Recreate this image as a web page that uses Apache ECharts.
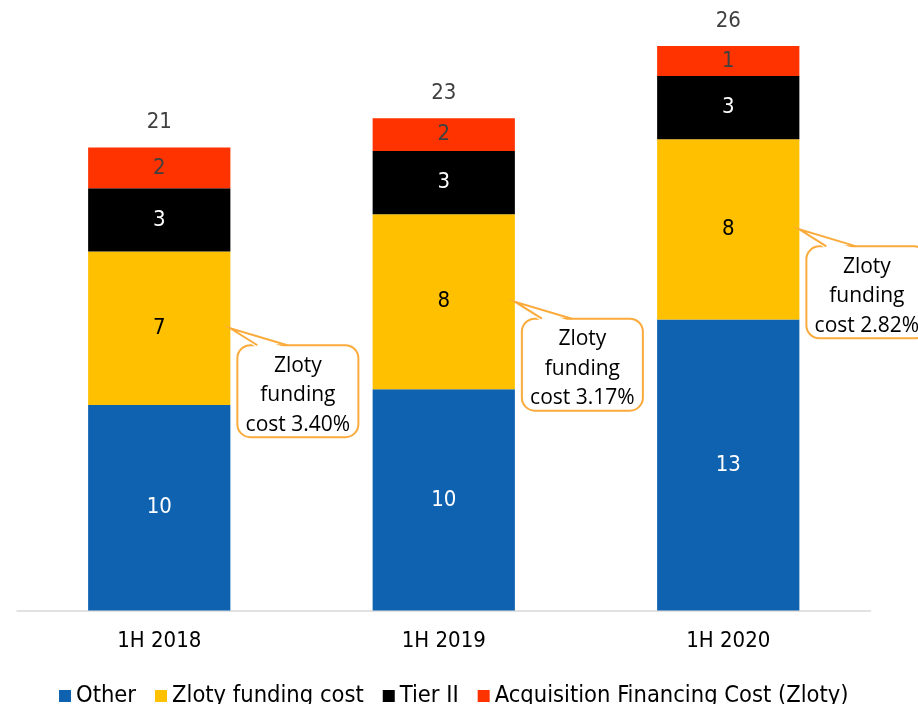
<!DOCTYPE html>
<html>
<head>
<meta charset="utf-8">
<script src="https://cdn.jsdelivr.net/npm/echarts@6/dist/echarts.min.js"></script>
<style>
  html, body { margin: 0; padding: 0; background: #fff; }
  #main { width: 918px; height: 704px; }
</style>
</head>
<body>
<div id="main"></div>
<script>
// categories
const periods = ['1H 2018', '1H 2019', '1H 2020'];

// bar heights
const other = [9.56, 10.3, 13.54];
const zlotyFunding = [7.15, 8.14, 8.39];
const tierII = [2.94, 2.94, 2.94];
const acquisition = [1.89, 1.52, 1.4];

// numbers printed on the chart (rounded by the source)
const otherLabels = [10, 10, 13];
const zlotyLabels = [7, 8, 8];
const tierLabels = [3, 3, 3];
const acquisitionLabels = [2, 2, 1];
const totalLabels = [21, 23, 26];

// callout texts
const fundingCost = ['3.40%', '3.17%', '2.82%'];

const FONT = "'DejaVu Sans Condensed', 'DejaVu Sans', sans-serif";
const BUBBLE = '#faab3c';

function seg(name, data, color, labels, labelColor) {
  return {
    name: name,
    type: 'bar',
    stack: 'cost',
    barWidth: '50%',
    data: data,
    itemStyle: { color: color },
    label: {
      show: true,
      position: 'inside',
      color: labelColor,
      fontFamily: FONT,
      fontSize: 22,
      formatter: p => String(labels[p.dataIndex])
    }
  };
}

const chart = echarts.init(document.getElementById('main'));

const option = {
  animation: false,
  backgroundColor: '#fff',
  grid: { left: 17, right: 47.5, top: 41, bottom: 93.5 },
  legend: {
    data: ['Other', 'Zloty funding cost', 'Tier II', 'Acquisition Financing Cost (Zloty)'],
    left: 54,
    top: 679,
    icon: 'rect',
    itemWidth: 12,
    itemHeight: 12,
    itemGap: 19,
    itemTextGap: 6,
    textStyle: { color: '#000', fontFamily: FONT, fontSize: 23.5 }
  },
  xAxis: {
    type: 'category',
    data: periods,
    axisLine: { lineStyle: { color: '#d9d9d9', width: 1.5 } },
    axisTick: { show: false },
    axisLabel: { color: '#000', fontFamily: FONT, fontSize: 22, margin: 20 }
  },
  yAxis: {
    type: 'value',
    min: 0,
    max: 26.5,
    show: false,
    splitLine: { show: false }
  },
  series: [
    seg('Other', other, '#0f62b0', otherLabels, '#fff'),
    seg('Zloty funding cost', zlotyFunding, '#ffc000', zlotyLabels, '#000'),
    seg('Tier II', tierII, '#000000', tierLabels, '#fff'),
    seg('Acquisition Financing Cost (Zloty)', acquisition, '#ff3300', acquisitionLabels, '#404040'),
    {
      name: 'Total',
      type: 'bar',
      stack: 'cost',
      barWidth: '50%',
      data: [0, 0, 0],
      itemStyle: { color: 'transparent' },
      label: {
        show: true,
        position: 'top',
        distance: 14,
        color: '#404040',
        fontFamily: FONT,
        fontSize: 22,
        formatter: p => String(totalLabels[p.dataIndex])
      }
    }
  ]
};

chart.setOption(option);

// speech-bubble callouts pointing at the zloty funding segment
const graphics = [];
const step = chart.convertToPixel({ xAxisIndex: 0 }, periods[1]) - chart.convertToPixel({ xAxisIndex: 0 }, periods[0]);
periods.forEach((p, i) => {
  const center = chart.convertToPixel({ xAxisIndex: 0 }, p);
  const tipX = center + step / 4;
  const tipY = chart.convertToPixel({ yAxisIndex: 0 }, other[i] + zlotyFunding[i] / 2);
  const left = tipX + 7;
  const top = tipY + 17;
  const w = 121, h = 92;
  const bl = left + 20, br = left + 50;
  graphics.push({
    type: 'rect',
    shape: { x: left, y: top, width: w, height: h, r: 13 },
    style: { fill: '#fff', stroke: BUBBLE, lineWidth: 2 },
    z: 100
  });
  // white patch hiding the box border under the tail
  graphics.push({
    type: 'polygon',
    shape: { points: [[bl, top + 3], [tipX, tipY], [br, top + 3]] },
    style: { fill: '#fff' },
    z: 101
  });
  graphics.push({
    type: 'polyline',
    shape: { points: [[bl, top], [tipX, tipY], [br, top]] },
    style: { fill: null, stroke: BUBBLE, lineWidth: 2 },
    z: 102
  });
  graphics.push({
    type: 'text',
    x: left + w / 2,
    y: top + 50,
    style: {
      text: 'Zloty\nfunding\ncost ' + fundingCost[i],
      fill: '#000',
      font: "21px 'Open Sans', sans-serif",
      lineHeight: 29.5,
      align: 'center',
      verticalAlign: 'middle'
    },
    z: 103
  });
});

chart.setOption({ graphic: graphics });
</script>
</body>
</html>
